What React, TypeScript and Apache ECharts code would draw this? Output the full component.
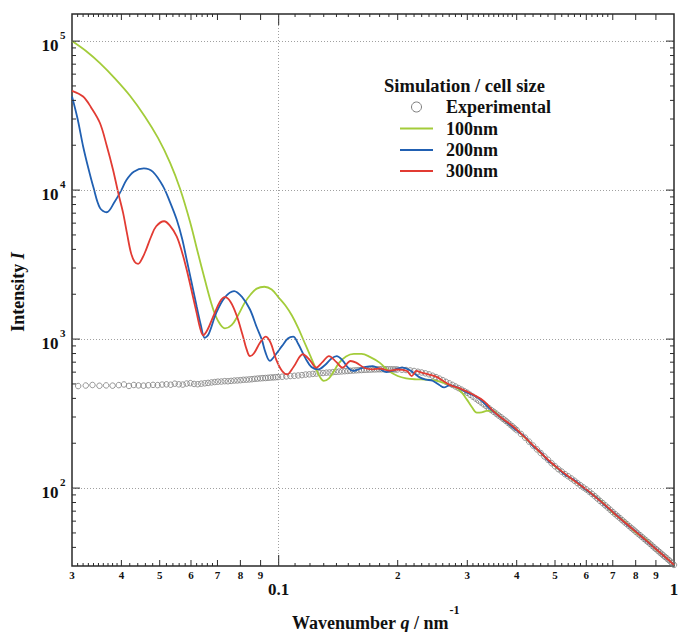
import React, { useEffect, useRef } from 'react';
import * as echarts from 'echarts';

// ---------- axis ranges ----------
const X_MIN = 0.03;
const X_MAX = 1;
const Y_MIN = 30;
const Y_MAX = 152000;

// ---------- tick positions / labels ----------
const X_SMALL_TICKS = [
  0.031, 0.032, 0.033, 0.034, 0.035, 0.036, 0.037, 0.038, 0.039,
  0.042, 0.044, 0.046, 0.048, 0.052, 0.054, 0.056, 0.058, 0.062, 0.064, 0.066, 0.068,
  0.11, 0.12, 0.13, 0.14, 0.15, 0.16, 0.17, 0.18, 0.19,
  0.21, 0.22, 0.23, 0.24, 0.25, 0.26, 0.27, 0.28, 0.29,
  0.31, 0.32, 0.33, 0.34, 0.35, 0.36, 0.37, 0.38, 0.39,
  0.42, 0.44, 0.46, 0.48, 0.52, 0.54, 0.56, 0.58, 0.62, 0.64, 0.66, 0.68,
];
const X_MED_TICKS = [0.04, 0.05, 0.06, 0.07, 0.08, 0.09, 0.2, 0.3, 0.4, 0.5, 0.6, 0.7, 0.8, 0.9];
const X_MAJOR_TICKS = [0.1];
const X_LABEL_VALUES = [0.03, 0.04, 0.05, 0.06, 0.07, 0.08, 0.09, 0.2, 0.3, 0.4, 0.5, 0.6, 0.7, 0.8, 0.9];
const X_LABEL_TEXTS = ['3', '4', '5', '6', '7', '8', '9', '2', '3', '4', '5', '6', '7', '8', '9'];
const X_BIG_LABEL_VALUES = [0.1, 1];
const X_BIG_LABEL_TEXTS = ['0.1', '1'];

const Y_MINOR_TICKS = [
  40, 50, 60, 70, 80, 90,
  200, 300, 400, 500, 600, 700, 800, 900,
  2000, 3000, 4000, 5000, 6000, 7000, 8000, 9000,
  20000, 30000, 40000, 50000, 60000, 70000, 80000, 90000,
];
const Y_MAJOR_TICKS = [100, 1000, 10000, 100000];
const Y_LABEL_EXPONENTS = ['2', '3', '4', '5'];

const GRID_X = [0.1];
const GRID_Y = [100, 1000, 10000, 100000];

// ---------- Experimental ----------
const EXP_Q = [
  0.0311, 0.0325, 0.0338, 0.0352, 0.0366, 0.038, 0.0394, 0.0406, 0.0418, 0.043,
  0.0442, 0.0455, 0.0468, 0.0481, 0.0494, 0.0507, 0.052, 0.0533, 0.0546, 0.0559,
  0.0572, 0.0585, 0.0598, 0.0611, 0.0624, 0.0637, 0.065, 0.0663, 0.0676, 0.0689,
  0.0702, 0.0716, 0.073, 0.0744, 0.0758, 0.0772, 0.0786, 0.08, 0.0814, 0.0828,
  0.0842, 0.0856, 0.087, 0.0884, 0.0898, 0.0912, 0.0926, 0.094, 0.0954, 0.0968,
  0.0982, 0.0996,
  0.102, 0.1045, 0.107, 0.1095, 0.112, 0.1145, 0.117, 0.1195, 0.122, 0.1245,
  0.127, 0.1295, 0.132, 0.1345, 0.137, 0.1395, 0.142, 0.1445, 0.147, 0.1495,
  0.152, 0.1545, 0.157, 0.1595, 0.162, 0.1645, 0.167, 0.1695, 0.172, 0.1745,
  0.177, 0.1795, 0.182, 0.1845, 0.187, 0.1895, 0.192, 0.1945, 0.197, 0.1995,
  0.205, 0.21, 0.215, 0.22, 0.225, 0.23, 0.235, 0.24, 0.245, 0.25,
  0.255, 0.26, 0.265, 0.27, 0.275, 0.28, 0.285, 0.29, 0.295, 0.3,
  0.305, 0.31, 0.315, 0.32, 0.325, 0.33, 0.335, 0.34, 0.345, 0.35,
  0.355, 0.36, 0.365, 0.37, 0.375, 0.38, 0.385, 0.39, 0.395, 0.4,
  0.41, 0.42, 0.43, 0.44, 0.45, 0.46, 0.47, 0.48, 0.49, 0.5,
  0.51, 0.52, 0.53, 0.54, 0.55, 0.56, 0.57, 0.58, 0.59, 0.6,
  0.61, 0.62, 0.63, 0.64, 0.65, 0.66, 0.67, 0.68, 0.69, 0.7,
  0.71, 0.72, 0.73, 0.74, 0.75, 0.76, 0.77, 0.78, 0.79, 0.8,
  0.81, 0.82, 0.83, 0.84, 0.85, 0.86, 0.87, 0.88, 0.89, 0.9,
  0.91, 0.92, 0.93, 0.94, 0.95, 0.96, 0.97, 0.98, 0.99, 1.0,
];
const EXP_I = [
  484, 488, 492, 486, 489, 487, 491, 496, 485, 492,
  489, 487, 490, 493, 491, 495, 497, 494, 502, 497,
  495, 503, 506, 500, 498, 502, 505, 508, 512, 515,
  518, 519, 522, 521, 524, 527, 528, 530, 533, 534,
  536, 538, 541, 543, 545, 547, 548, 550, 552, 553,
  555, 556,
  559, 562, 565, 567, 570, 573, 578, 580, 584, 587,
  590, 592, 595, 597, 600, 603, 605, 607, 609, 611,
  613, 615, 617, 619, 620, 622, 623, 624, 625, 626,
  627, 627, 628, 628, 628, 627, 627, 626, 626, 625,
  623, 620, 616, 611, 604, 597, 589, 580, 568, 556,
  543, 530, 517, 505, 493, 481, 469, 458, 447, 436,
  423, 411, 399, 387, 376, 365, 355, 344, 334, 325,
  316, 307, 299, 291, 283, 275, 267, 260, 252, 245,
  231, 218, 205, 193, 182, 172, 163, 155, 147, 140,
  134, 129, 124, 120, 116, 112, 108, 104.5, 101, 98,
  94.7, 91.5, 88.3, 85.1, 82, 79.3, 76.6, 74, 71.5, 69,
  66.9, 64.8, 62.8, 60.9, 59, 57.3, 55.6, 54, 52.5, 51,
  49.6, 48.3, 47, 45.7, 44.5, 43.4, 42.3, 41.1, 40, 39,
  38.1, 37.1, 36.2, 35.3, 34.5, 33.7, 32.9, 32.1, 31.3, 30.5,
];

// ---------- 100nm ----------
const G_Q = [
  0.03, 0.03255, 0.0353, 0.0385, 0.0421, 0.0459, 0.0495, 0.0531, 0.0563, 0.0597,
  0.0625, 0.0651, 0.0678, 0.0702, 0.0731, 0.076, 0.079, 0.082, 0.085, 0.088,
  0.092, 0.096, 0.1, 0.104, 0.108, 0.112, 0.116, 0.12, 0.124, 0.127,
  0.13, 0.134, 0.138, 0.142, 0.148, 0.155, 0.162, 0.17, 0.18, 0.19,
  0.2, 0.21, 0.223, 0.235, 0.246, 0.261, 0.272, 0.282, 0.291, 0.299,
  0.308, 0.317, 0.326, 0.336, 0.349, 0.36, 0.38, 0.4, 0.42, 0.44,
  0.46, 0.48, 0.5, 0.53, 0.56, 0.6, 0.65, 0.7, 0.75, 0.8,
  0.85, 0.9, 0.95, 1.0,
];
const G_I = [
  100000, 85700, 71100, 56200, 42800, 31100, 22400, 15300, 10200, 6080,
  3770, 2480, 1680, 1330, 1180, 1240, 1450, 1750, 2000, 2180,
  2245, 2150, 1900, 1680, 1440, 1190, 960, 780, 640, 560,
  525, 545, 610, 690, 765, 795, 795, 760, 695, 610,
  565, 545, 537, 535, 530, 510, 490, 472, 435, 394,
  350, 321, 322, 330, 330, 307, 272, 246, 218, 192,
  172, 154, 140, 124, 112, 97, 83, 68.5, 59.5, 50.5,
  45, 38.8, 34.5, 30.5,
];

// ---------- 200nm ----------
const B_Q = [
  0.03, 0.031, 0.032, 0.033, 0.034, 0.0353, 0.0367, 0.0385, 0.04, 0.0412,
  0.043, 0.0456, 0.048, 0.051, 0.053, 0.0552, 0.057, 0.0585, 0.06, 0.062,
  0.0635, 0.065, 0.0665, 0.0695, 0.073, 0.0771, 0.081, 0.0846, 0.088, 0.0906,
  0.0925, 0.095, 0.098, 0.102, 0.1055, 0.1088, 0.112, 0.117, 0.121, 0.126,
  0.131, 0.136, 0.1402, 0.145, 0.15, 0.154, 0.16, 0.166, 0.173, 0.18,
  0.1875, 0.195, 0.2, 0.206, 0.213, 0.22, 0.228, 0.236, 0.245, 0.255,
  0.262, 0.27, 0.28, 0.29, 0.3, 0.32, 0.34, 0.36, 0.38, 0.4,
  0.42, 0.44, 0.46, 0.48, 0.5, 0.53, 0.56, 0.6, 0.64, 0.68,
  0.72, 0.76, 0.8, 0.85, 0.9, 0.95, 1.0,
];
const B_I = [
  42500, 30000, 19700, 14000, 10400, 7600, 7100, 8400, 10000, 11700,
  13300, 14000, 13300, 10600, 8400, 6340, 4700, 3420, 2500, 1660,
  1250, 1020, 1080, 1500, 1900, 2100, 1900, 1580, 1200, 995,
  820, 715, 780, 900, 1010, 1040, 930, 740, 650, 627,
  670, 740, 769, 720, 640, 611, 630, 650, 659, 630,
  601, 615, 635, 643, 625, 590, 551, 535, 525, 492,
  474, 489, 479, 458, 437, 402, 346, 306, 272, 243,
  220, 191, 174, 153, 141, 123, 113, 97, 85.5, 73.6,
  65, 57, 51.2, 44.4, 39.1, 34.4, 30.5,
];

// ---------- 300nm ----------
const R_Q = [
  0.03, 0.032, 0.0335, 0.0353, 0.0367, 0.0381, 0.0393, 0.0404, 0.0414, 0.0423,
  0.0432, 0.0441, 0.0452, 0.0462, 0.0476, 0.049, 0.0513, 0.053, 0.0552, 0.057,
  0.0585, 0.06, 0.062, 0.0633, 0.0644, 0.066, 0.0684, 0.071, 0.0731, 0.0755,
  0.0782, 0.081, 0.083, 0.0846, 0.0865, 0.09, 0.0928, 0.0955, 0.0985, 0.102,
  0.105, 0.109, 0.1151, 0.12, 0.1244, 0.129, 0.134, 0.14, 0.145, 0.152,
  0.157, 0.165, 0.173, 0.18, 0.19, 0.2, 0.211, 0.217, 0.223, 0.23,
  0.24, 0.25, 0.27, 0.29, 0.31, 0.33, 0.35, 0.37, 0.39, 0.41,
  0.43, 0.45, 0.48, 0.51, 0.54, 0.57, 0.6, 0.64, 0.68, 0.72,
  0.76, 0.8, 0.85, 0.9, 0.95, 1.0,
];
const R_I = [
  46400, 42500, 36000, 28200, 20000, 13700, 9500, 7030, 5000, 3790,
  3300, 3200, 3500, 3990, 4900, 5720, 6180, 5800, 4900, 3800,
  2930, 2200, 1500, 1180, 1060, 1150, 1430, 1780, 1910, 1780,
  1450, 1070, 850, 769, 800, 960, 1040, 940, 731, 610,
  580, 650, 791, 720, 643, 700, 769, 700, 643, 713,
  695, 640, 627, 635, 615, 625, 611, 565, 612, 595,
  578, 560, 495, 462, 425, 385, 326, 290, 262, 232,
  206, 183, 155, 135, 120, 108, 98, 85, 74.3, 64.6,
  57.4, 51, 44.6, 39, 34.5, 30.5,
];

const SERIES_NAMES = ['Experimental', '100nm', '200nm', '300nm'];
const LEGEND_TITLE = 'Simulation / cell size';

const FONT = '"Liberation Serif", "Times New Roman", Times, serif';
const COLORS = { exp: '#7c7c7c', g: '#a3cc3a', b: '#2160b2', r: '#e23b33' };

const zip = (q: number[], v: number[]) => q.map((x, i) => [x, v[i]]);

export default function App() {
  const ref = useRef<HTMLDivElement>(null);

  useEffect(() => {
    document.body.style.margin = '0';
    const chart = echarts.init(ref.current!, null, { renderer: 'svg' });

    const lineSeries = (name: string, q: number[], v: number[], color: string) => ({
      name,
      type: 'line',
      data: zip(q, v),
      symbol: 'none',
      showSymbol: false,
      smooth: 0.35,
      lineStyle: { color, width: 1.8 },
      itemStyle: { color },
      z: 3,
    });

    chart.setOption({
      animation: false,
      backgroundColor: '#ffffff',
      grid: {
        left: 72,
        right: 4,
        top: 14,
        bottom: 66,
        show: true,
        borderColor: '#2a2a2a',
        borderWidth: 1.5,
        backgroundColor: 'transparent',
      },
      xAxis: {
        type: 'log',
        logBase: 10,
        min: X_MIN,
        max: X_MAX,
        axisLine: { show: false },
        axisTick: { show: false },
        axisLabel: { show: false },
        splitLine: { show: false },
      },
      yAxis: {
        type: 'log',
        logBase: 10,
        min: Y_MIN,
        max: Y_MAX,
        axisLine: { show: false },
        axisTick: { show: false },
        axisLabel: { show: false },
        splitLine: { show: false },
      },
      series: [
        {
          name: SERIES_NAMES[0],
          type: 'scatter',
          data: zip(EXP_Q, EXP_I),
          symbol: 'circle',
          symbolSize: 5.5,
          itemStyle: { color: 'rgba(255,255,255,0)', borderColor: COLORS.exp, borderWidth: 1 },
          z: 2,
          markLine: {
            silent: true,
            symbol: 'none',
            label: { show: false },
            lineStyle: { color: '#a0a0a0', type: [1, 2], width: 1 },
            data: [
              ...GRID_X.map((v) => ({ xAxis: v })),
              ...GRID_Y.map((v) => ({ yAxis: v })),
            ],
          },
        },
        lineSeries(SERIES_NAMES[1], G_Q, G_I, COLORS.g),
        lineSeries(SERIES_NAMES[2], B_Q, B_I, COLORS.b),
        lineSeries(SERIES_NAMES[3], R_Q, R_I, COLORS.r),
      ],
    });

    const toPx = (q: number, v: number) =>
      chart.convertToPixel({ xAxisIndex: 0, yAxisIndex: 0 }, [q, v]) as number[];
    const [xL, yB] = toPx(X_MIN, Y_MIN);
    const [xR, yT] = toPx(X_MAX, Y_MAX);

    const els: any[] = [];
    const seg = (x1: number, y1: number, x2: number, y2: number, stroke = '#2a2a2a', lineWidth = 1) =>
      els.push({
        type: 'line',
        silent: true,
        z: 10,
        shape: { x1, y1, x2, y2 },
        style: { stroke, lineWidth },
      });
    const txt = (x: number, y: number, text: string, font: string, align = 'center', extra: any = {}) =>
      els.push({
        type: 'text',
        silent: true,
        z: 10,
        x,
        y,
        ...extra,
        style: { text, font, fill: '#111', align, verticalAlign: 'middle' },
      });

    // x ticks (bottom & top, pointing inward)
    const xTick = (q: number, len: number) => {
      const x = toPx(q, 1000)[0];
      seg(x, yB, x, yB - len);
      seg(x, yT, x, yT + len);
    };
    X_SMALL_TICKS.forEach((q) => xTick(q, 3));
    X_MED_TICKS.forEach((q) => xTick(q, 6));
    X_MAJOR_TICKS.forEach((q) => xTick(q, 11));

    // y ticks (left & right, pointing inward)
    const yTick = (v: number, len: number) => {
      const y = toPx(0.1, v)[1];
      seg(xL, y, xL + len, y);
      seg(xR, y, xR - len, y);
    };
    Y_MINOR_TICKS.forEach((v) => yTick(v, 4));
    Y_MAJOR_TICKS.forEach((v) => yTick(v, 8));

    // x labels
    X_LABEL_VALUES.forEach((q, i) => {
      const x = toPx(q, 1000)[0];
      txt(x, yB + 9, X_LABEL_TEXTS[i], `bold 11px ${FONT}`);
    });
    X_BIG_LABEL_VALUES.forEach((q, i) => {
      const x = toPx(q, 1000)[0];
      txt(x, yB + 23, X_BIG_LABEL_TEXTS[i], `bold 17px ${FONT}`);
    });

    // y labels 10^n
    Y_MAJOR_TICKS.forEach((v, i) => {
      const y = toPx(0.1, v)[1];
      txt(xL - 13.5, y + 4.5, '10', `bold 17px ${FONT}`, 'right');
      txt(xL - 12, y - 6, Y_LABEL_EXPONENTS[i], `bold 11px ${FONT}`, 'left');
    });

    // axis names
    const ctx = document.createElement('canvas').getContext('2d')!;
    const measure = (s: string, f: string) => {
      ctx.font = f;
      return ctx.measureText(s).width;
    };
    const fB = `bold 18px ${FONT}`;
    const fBI = `italic bold 18px ${FONT}`;
    const xNameLeft = 292;
    const xNameY = 623;
    els.push({
      type: 'text',
      silent: true,
      z: 10,
      x: xNameLeft,
      y: xNameY,
      style: {
        text: '{b|Wavenumber }{i|q}{b| / nm}',
        align: 'left',
        verticalAlign: 'middle',
        fill: '#111',
        rich: {
          b: { fontFamily: FONT, fontWeight: 'bold', fontSize: 18, fill: '#111' },
          i: { fontFamily: FONT, fontWeight: 'bold', fontStyle: 'italic', fontSize: 18, fill: '#111' },
        },
      },
    });
    const nameW = measure('Wavenumber ', fB) + measure('q', fBI) + measure(' / nm', fB);
    txt(xNameLeft + nameW + 1, xNameY - 13, '-1', `bold 12px ${FONT}`, 'left');

    els.push({
      type: 'text',
      silent: true,
      z: 10,
      x: 18,
      y: 292,
      rotation: Math.PI / 2,
      style: {
        text: '{b|Intensity }{i|I}',
        align: 'center',
        verticalAlign: 'middle',
        fill: '#111',
        rich: {
          b: { fontFamily: FONT, fontWeight: 'bold', fontSize: 18, fill: '#111' },
          i: { fontFamily: FONT, fontWeight: 'bold', fontStyle: 'italic', fontSize: 18, fill: '#111' },
        },
      },
    });

    // legend (title + keys)
    txt(464.5, 86, LEGEND_TITLE, `bold 18.5px ${FONT}`);
    const legendRowsY = [107, 128.5, 150, 171];
    const keyX1 = 400;
    const keyX2 = 433;
    const textX = 446;
    els.push({
      type: 'circle',
      silent: true,
      z: 10,
      shape: { cx: (keyX1 + keyX2) / 2, cy: legendRowsY[0], r: 5 },
      style: { fill: 'none', stroke: COLORS.exp, lineWidth: 1 },
    });
    const lineColors = [COLORS.g, COLORS.b, COLORS.r];
    lineColors.forEach((c, i) => seg(keyX1, legendRowsY[i + 1], keyX2, legendRowsY[i + 1], c, 1.8));
    SERIES_NAMES.forEach((n, i) => txt(textX, legendRowsY[i], n, `bold 18px ${FONT}`, 'left'));

    chart.setOption({ graphic: els });

    return () => chart.dispose();
  }, []);

  return <div ref={ref} style={{ width: 678, height: 632 }} />;
}
